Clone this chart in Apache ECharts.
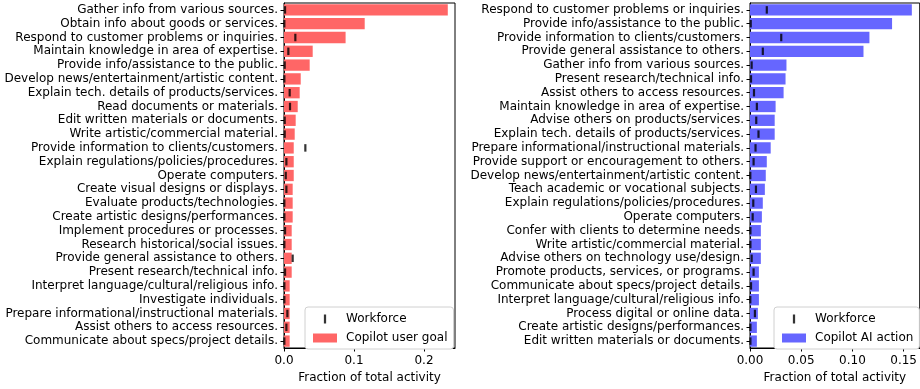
<!DOCTYPE html>
<html>
<head>
<meta charset="utf-8">
<script src="https://cdn.jsdelivr.net/npm/echarts@6/dist/echarts.min.js"></script>
<style>html,body{margin:0;padding:0;background:#fff}#c{width:920px;height:389px}</style>
</head>
<body>
<div id="c"></div>
<script>
const leftCategories = [
  "Gather info from various sources.",
  "Obtain info about goods or services.",
  "Respond to customer problems or inquiries.",
  "Maintain knowledge in area of expertise.",
  "Provide info/assistance to the public.",
  "Develop news/entertainment/artistic content.",
  "Explain tech. details of products/services.",
  "Read documents or materials.",
  "Edit written materials or documents.",
  "Write artistic/commercial material.",
  "Provide information to clients/customers.",
  "Explain regulations/policies/procedures.",
  "Operate computers.",
  "Create visual designs or displays.",
  "Evaluate products/technologies.",
  "Create artistic designs/performances.",
  "Implement procedures or processes.",
  "Research historical/social issues.",
  "Provide general assistance to others.",
  "Present research/technical info.",
  "Interpret language/cultural/religious info.",
  "Investigate individuals.",
  "Prepare informational/instructional materials.",
  "Assist others to access resources.",
  "Communicate about specs/project details."
];
const leftGoal = [0.234, 0.1153, 0.088, 0.041, 0.0367, 0.0239, 0.0224, 0.0196, 0.0167, 0.0153,
  0.0139, 0.0139, 0.0139, 0.0124, 0.0124, 0.0124, 0.011, 0.011, 0.011, 0.011,
  0.0081, 0.0081, 0.0081, 0.0081, 0.0081];
const leftWorkforce = [0.0015, 0.0005, 0.0162, 0.0062, 0.001, 0.0005, 0.0081, 0.0086, 0.001, 0.001,
  0.0305, 0.0034, 0.0025, 0.0034, 0.0005, 0.0005, 0.0015, 0.0005, 0.0124, 0.0015,
  0.0005, 0.0005, 0.0048, 0.0034, 0.0005];

const rightCategories = [
  "Respond to customer problems or inquiries.",
  "Provide info/assistance to the public.",
  "Provide information to clients/customers.",
  "Provide general assistance to others.",
  "Gather info from various sources.",
  "Present research/technical info.",
  "Assist others to access resources.",
  "Maintain knowledge in area of expertise.",
  "Advise others on products/services.",
  "Explain tech. details of products/services.",
  "Prepare informational/instructional materials.",
  "Provide support or encouragement to others.",
  "Develop news/entertainment/artistic content.",
  "Teach academic or vocational subjects.",
  "Explain regulations/policies/procedures.",
  "Operate computers.",
  "Confer with clients to determine needs.",
  "Write artistic/commercial material.",
  "Advise others on technology use/design.",
  "Promote products, services, or programs.",
  "Communicate about specs/project details.",
  "Interpret language/cultural/religious info.",
  "Process digital or online data.",
  "Create artistic designs/performances.",
  "Edit written materials or documents."
];
const rightAction = [0.158, 0.1387, 0.1166, 0.1108, 0.0356, 0.0347, 0.0328, 0.025, 0.0241, 0.0241,
  0.0202, 0.0164, 0.0154, 0.0145, 0.0125, 0.0116, 0.0106, 0.0106, 0.0106, 0.0087,
  0.0087, 0.0087, 0.0077, 0.0067, 0.0067];
const rightWorkforce = [0.0164, 0.0007, 0.0305, 0.0125, 0.0016, 0.001, 0.0039, 0.0067, 0.0061, 0.0083,
  0.0054, 0.0035, 0.0003, 0.0058, 0.0032, 0.0026, 0.0004, 0.0004, 0.0016, 0.0035,
  0.001, 0.0003, 0.0048, 0.0004, 0.0004];

const leftTicks = [0, 0.1, 0.2];
const rightTicks = [0, 0.05, 0.1, 0.15];

const FONT = 'DejaVu Sans';
const FS = 12;
const RED = '#ff6666';
const BLUE = '#6666ff';
const wfIcon = 'path://M0,0H2V8H0Z';

function xAxisCfg(gridIndex, max, ticks, digits) {
  return {
    type: 'value', gridIndex, min: 0, max,
    name: 'Fraction of total activity', nameLocation: 'middle', nameGap: 24,
    nameTextStyle: { fontFamily: FONT, fontSize: FS, color: '#000' },
    axisLine: { show: true, lineStyle: { color: '#000', width: 1 } },
    axisTick: { show: true, length: 3.5, customValues: ticks, lineStyle: { color: '#000' } },
    axisLabel: { customValues: ticks, formatter: v => v.toFixed(digits), fontFamily: FONT, fontSize: FS, color: '#000', margin: 7 },
    splitLine: { show: false }
  };
}
function yAxisCfg(gridIndex, cats) {
  return {
    type: 'category', gridIndex, data: cats, inverse: true,
    axisLine: { show: true, lineStyle: { color: '#000', width: 1 } },
    axisTick: { show: true, length: 3.5, alignWithLabel: true, lineStyle: { color: '#000' } },
    axisLabel: { fontFamily: FONT, fontSize: FS, color: '#000', margin: 6, interval: 0 },
    splitLine: { show: false }
  };
}
function legendCfg(left, top, barName) {
  return {
    orient: 'vertical', left, top,
    itemWidth: 24, itemHeight: 9, itemGap: 7,
    symbolKeepAspect: true,
    backgroundColor: '#fff', borderColor: '#d0d0d0', borderWidth: 1, borderRadius: 3,
    padding: [6, 6, 5, 8],
    textStyle: { fontFamily: FONT, fontSize: FS, color: '#000', padding: [0, 0, 0, 4] },
    data: [{ name: 'Workforce', icon: wfIcon }, { name: barName, icon: 'rect' }],
    selectedMode: false
  };
}

const chart = echarts.init(document.getElementById('c'), null, { renderer: 'canvas' });
chart.setOption({
  animation: false,
  backgroundColor: '#fff',
  grid: [
    { left: 284, top: 3, width: 171, height: 349, show: true, borderColor: '#000', borderWidth: 1, backgroundColor: 'transparent' },
    { left: 750, top: 3, width: 172, height: 349, show: true, borderColor: '#000', borderWidth: 1, backgroundColor: 'transparent' }
  ],
  xAxis: [xAxisCfg(0, 0.2443, leftTicks, 1), xAxisCfg(1, 0.1657, rightTicks, 2)],
  yAxis: [yAxisCfg(0, leftCategories), yAxisCfg(1, rightCategories)],
  legend: [
    legendCfg(305, 307, 'Copilot user goal'),
    legendCfg(774, 307, 'Copilot AI action')
  ],
  series: [
    { name: 'Copilot user goal', type: 'bar', xAxisIndex: 0, yAxisIndex: 0, data: leftGoal, barWidth: '82%', itemStyle: { color: RED }, z: 2 },
    { name: 'Workforce', type: 'scatter', xAxisIndex: 0, yAxisIndex: 0, data: leftWorkforce.map((v, i) => [v, i]), symbol: 'rect', symbolSize: [2.2, 7.5], itemStyle: { color: '#000' }, z: 5 },
    { name: 'Copilot AI action', type: 'bar', xAxisIndex: 1, yAxisIndex: 1, data: rightAction, barWidth: '82%', itemStyle: { color: BLUE }, z: 2 },
    { name: 'Workforce', type: 'scatter', xAxisIndex: 1, yAxisIndex: 1, data: rightWorkforce.map((v, i) => [v, i]), symbol: 'rect', symbolSize: [2.2, 7.5], itemStyle: { color: '#000' }, z: 5 }
  ]
});
</script>
</body>
</html>
